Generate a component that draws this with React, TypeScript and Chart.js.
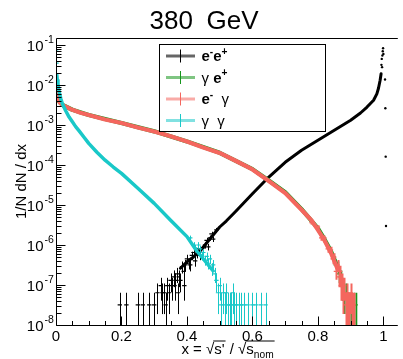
import React, { useEffect, useRef } from 'react';
import { Chart, registerables } from 'chart.js';

Chart.register(...registerables);

// ---------------- data ----------------
const TITLE_NUM = '380';
const TITLE_UNIT = 'GeV';
const Y_TITLE = '1/N dN / dx';
const UNIT = 3.2e-8; // value of one entry per bin

const X_MIN = 0;
const X_MAX = 1.044;
const Y_MIN = 1e-8;
const Y_MAX = 0.15;
const X_TICKS = [0, 0.2, 0.4, 0.6, 0.8, 1];
const X_TICK_LABELS = ['0', '0.2', '0.4', '0.6', '0.8', '1'];
const Y_DECADES = [-1, -2, -3, -4, -5, -6, -7, -8];

const LEGEND_LABELS = ['e⁻e⁺', 'γ e⁺', 'e⁻ γ', 'γ γ'];

// e- e+
const eeX = [0.38, 0.40, 0.42, 0.44, 0.46, 0.48, 0.50, 0.52, 0.55, 0.60, 0.65, 0.70, 0.75, 0.80, 0.85, 0.90, 0.93, 0.95, 0.97, 0.98, 0.985, 0.99, 0.993];
const eeY = [2.63e-7, 3.80e-7, 5.01e-7, 7.08e-7, 1.12e-6, 1.78e-6, 2.82e-6, 3.98e-6, 7.08e-6, 1.91e-5, 5.01e-5, 1.17e-4, 2.34e-4, 4.17e-4, 7.41e-4, 1.32e-3, 2.0e-3, 2.82e-3, 4.17e-3, 6.03e-3, 8.32e-3, 1.32e-2, 1.91e-2];
const eePeakX = [0.994, 0.995, 0.996, 0.997, 0.998, 0.999, 1.0, 1.005, 1.006, 1.007, 1.008];
const eePeakY = [3.2e-2, 4.5e-2, 2.8e-2, 5.5e-2, 7.0e-2, 8.3e-2, 6.0e-2, 1.38e-2, 2.63e-3, 1.62e-4, 2.98e-6];
const eeNoiseX = [0.195, 0.215, 0.25, 0.265, 0.285, 0.3, 0.31, 0.32, 0.325, 0.33, 0.335, 0.34, 0.345, 0.35, 0.355, 0.36, 0.362, 0.365, 0.37, 0.372, 0.375, 0.38, 0.385, 0.39, 0.392, 0.395, 0.4, 0.405, 0.41, 0.415, 0.42, 0.425, 0.43, 0.435, 0.44, 0.45, 0.455, 0.46, 0.465, 0.47, 0.475, 0.48, 0.49];
const eeNoiseY = [3.2e-8, 3.2e-8, 3.2e-8, 3.2e-8, 3.2e-8, 3.2e-8, 6.4e-8, 9.6e-8, 6.4e-8, 6.4e-8, 3.2e-8, 9.6e-8, 6.4e-8, 1.3e-7, 9.6e-8, 1.6e-7, 9.6e-8, 1.3e-7, 1.9e-7, 6.4e-8, 1.6e-7, 1.3e-7, 2.9e-7, 2.2e-7, 9.6e-8, 3.2e-7, 4.5e-7, 3.5e-7, 3.2e-7, 5.5e-7, 6.5e-7, 4.0e-7, 6.0e-7, 8.0e-7, 5.5e-7, 8.5e-7, 1.0e-6, 1.3e-6, 9.0e-7, 1.5e-6, 1.9e-6, 1.4e-6, 2.4e-6];

// gamma e+
const geX = [0.0005, 0.0015, 0.004, 0.01, 0.02, 0.05, 0.1, 0.2, 0.3, 0.4, 0.5, 0.6, 0.65, 0.7, 0.75, 0.8, 0.82, 0.84, 0.86];
const geY = [8.8e-3, 7.9e-3, 5.3e-3, 3.8e-3, 3.17e-3, 2.41e-3, 1.79e-3, 1.12e-3, 6.95e-4, 3.9e-4, 2.02e-4, 7.9e-5, 4.1e-5, 2.1e-5, 7.9e-6, 2.6e-6, 1.4e-6, 7.0e-7, 2.8e-7];
const geNoiseX = [0.85, 0.86, 0.863, 0.87, 0.875, 0.88, 0.887, 0.895, 0.9, 0.91, 0.915];
const geNoiseY = [4.2e-7, 2.9e-7, 1.9e-7, 1.6e-7, 9.6e-8, 6.4e-8, 6.4e-8, 3.2e-8, 3.2e-8, 3.2e-8, 3.2e-8];

// e- gamma
const egX = [0.0005, 0.0015, 0.004, 0.007, 0.012, 0.02, 0.03, 0.05, 0.075, 0.1, 0.15, 0.2, 0.25, 0.3, 0.35, 0.4, 0.45, 0.5, 0.55, 0.6, 0.65, 0.7, 0.75, 0.78, 0.8, 0.82, 0.84, 0.85, 0.86];
const egY = [9.0e-3, 7.94e-3, 5.25e-3, 4.27e-3, 3.63e-3, 3.16e-3, 2.88e-3, 2.40e-3, 2.04e-3, 1.78e-3, 1.38e-3, 1.12e-3, 8.71e-4, 6.92e-4, 5.25e-4, 3.89e-4, 2.75e-4, 2.0e-4, 1.26e-4, 7.76e-5, 3.98e-5, 2.0e-5, 7.59e-6, 4.17e-6, 2.40e-6, 1.32e-6, 6.31e-7, 3.98e-7, 2.51e-7];
const egNoiseX = [0.78, 0.8, 0.81, 0.82, 0.83, 0.84, 0.845, 0.85, 0.855, 0.86, 0.865, 0.868, 0.87, 0.875, 0.878, 0.88, 0.885, 0.888, 0.89, 0.895, 0.9, 0.905, 0.91];
const egNoiseY = [3.6e-6, 2.8e-6, 1.5e-6, 1.5e-6, 8.0e-7, 7.5e-7, 4.5e-7, 5.0e-7, 2.2e-7, 3.2e-7, 1.6e-7, 2.2e-7, 9.6e-8, 1.3e-7, 6.4e-8, 9.6e-8, 3.2e-8, 6.4e-8, 3.2e-8, 3.2e-8, 6.4e-8, 3.2e-8, 3.2e-8];

// gamma gamma
const ggX = [0.0025, 0.004, 0.006, 0.008, 0.01, 0.015, 0.02, 0.03, 0.04, 0.05, 0.06, 0.07, 0.085, 0.1, 0.125, 0.15, 0.175, 0.2, 0.25, 0.3, 0.35, 0.4, 0.43, 0.46, 0.48];
const ggY = [1.78e-2, 1.32e-2, 1.05e-2, 8.32e-3, 6.61e-3, 4.47e-3, 3.31e-3, 2.24e-3, 1.58e-3, 1.20e-3, 9.12e-4, 7.24e-4, 5.01e-4, 3.47e-4, 2.09e-4, 1.32e-4, 8.91e-5, 6.17e-5, 2.63e-5, 1.10e-5, 4.17e-6, 1.62e-6, 7.08e-7, 3.55e-7, 2.24e-7];
const ggNoiseX = [0.0005, 0.0015, 0.41, 0.42, 0.425, 0.435, 0.44, 0.445, 0.45, 0.455, 0.46, 0.465, 0.47, 0.475, 0.48, 0.485, 0.49, 0.495, 0.5, 0.505, 0.51, 0.515, 0.52, 0.525, 0.53, 0.535, 0.54, 0.545, 0.55, 0.56, 0.565, 0.575, 0.585, 0.6, 0.61, 0.625, 0.64];
const ggNoiseY = [7.6e-2, 3.55e-2, 1.5e-6, 1.0e-6, 8.5e-7, 1.0e-6, 8.0e-7, 5.5e-7, 6.5e-7, 4.2e-7, 5.2e-7, 3.5e-7, 4.5e-7, 2.6e-7, 3.2e-7, 1.9e-7, 1.3e-7, 6.4e-8, 9.6e-8, 3.2e-8, 6.4e-8, 3.2e-8, 6.4e-8, 3.2e-8, 3.2e-8, 3.2e-8, 6.4e-8, 3.2e-8, 3.2e-8, 3.2e-8, 3.2e-8, 3.2e-8, 3.2e-8, 3.2e-8, 3.2e-8, 3.2e-8, 3.2e-8];

// ---------------- styles ----------------
const FONT = '"Liberation Sans", Arial, Helvetica, sans-serif';
const C_EE = '#000000';
const C_GE = '#16961c';
const C_EG = '#f4665e';
const C_GG = '#19c8c8';
const C_EE_L = 'rgba(0,0,0,0.6)';
const C_GE_L = 'rgba(22,150,28,0.55)';
const C_EG_L = 'rgba(244,102,94,0.55)';
const C_GG_L = 'rgba(25,200,200,0.55)';

const ERR_WIDTH: Record<string, number> = { 'ee-noise': 1, 'ge-noise': 1.6, 'eg-noise': 2, 'gg-noise': 1 };

const pts = (xs: number[], ys: number[]) => xs.map((x, i) => ({ x, y: ys[i] }));

type Part = { t: string; b?: boolean; sup?: boolean; sub?: boolean };

function drawParts(ctx: CanvasRenderingContext2D, x: number, base: number, parts: Part[], size: number, draw = true): number {
  let cx = x;
  for (const p of parts) {
    const s = p.sup || p.sub ? size * 0.68 : size;
    ctx.font = `${p.b ? 'bold ' : ''}${s}px ${FONT}`;
    const y = p.sup ? base - size * 0.42 : p.sub ? base + size * 0.28 : base;
    if (draw) ctx.fillText(p.t, cx, y);
    cx += ctx.measureText(p.t).width;
  }
  return cx - x;
}

const errorBarPlugin = {
  id: 'errorBars',
  afterDatasetDraw(chart: any, args: any) {
    const ds = chart.data.datasets[args.index];
    const w = ERR_WIDTH[ds.label];
    if (!w) return;
    const { ctx, chartArea: a } = chart;
    const xs = chart.scales.x;
    const ys = chart.scales.y;
    ctx.save();
    ctx.beginPath();
    ctx.rect(a.left, a.top, a.right - a.left, a.bottom - a.top);
    ctx.clip();
    ctx.strokeStyle = ds.borderColor;
    ctx.lineWidth = w;
    ctx.beginPath();
    ds.data.forEach((p: any) => {
      const err = Math.sqrt(p.y * UNIT);
      const px = Math.round(xs.getPixelForValue(p.x)) + 0.5;
      const lo = p.y - err;
      const yLo = lo > Y_MIN * 0.5 ? ys.getPixelForValue(lo) : a.bottom;
      const yHi = ys.getPixelForValue(p.y + err);
      ctx.moveTo(px, yLo);
      ctx.lineTo(px, yHi);
    });
    ctx.stroke();
    ctx.restore();
  },
};

const framePlugin = {
  id: 'rootFrame',
  afterDraw(chart: any) {
    const { ctx, chartArea: a } = chart;
    const xs = chart.scales.x;
    const ys = chart.scales.y;
    ctx.save();
    ctx.fillStyle = '#000';
    ctx.strokeStyle = '#000';
    ctx.lineWidth = 1;

    const L = Math.round(a.left) + 0.5;
    const B = Math.round(a.bottom) + 0.5;
    const T = Math.round(a.top) + 0.5;

    // frame
    ctx.beginPath();
    ctx.moveTo(L, T);
    ctx.lineTo(a.right, T);
    ctx.moveTo(L, T);
    ctx.lineTo(L, B);
    ctx.lineTo(a.right, B);
    ctx.stroke();

    // x ticks
    ctx.beginPath();
    for (let i = 0; i <= 20; i++) {
      const v = i * 0.05;
      const px = Math.round(xs.getPixelForValue(v)) + 0.5;
      const major = i % 4 === 0;
      ctx.moveTo(px, B);
      ctx.lineTo(px, B - (major ? 9 : 4.5));
    }
    // y ticks
    for (const e of Y_DECADES) {
      const py = Math.round(ys.getPixelForValue(Math.pow(10, e))) + 0.5;
      ctx.moveTo(L, py);
      ctx.lineTo(L + 9, py);
      for (let m = 2; m <= 9; m++) {
        const v = m * Math.pow(10, e);
        if (v > Y_MAX || v < Y_MIN) continue;
        const q = Math.round(ys.getPixelForValue(v)) + 0.5;
        ctx.moveTo(L, q);
        ctx.lineTo(L + 5, q);
      }
    }
    ctx.stroke();

    // x tick labels
    ctx.font = `15px ${FONT}`;
    ctx.textAlign = 'center';
    ctx.textBaseline = 'middle';
    X_TICKS.forEach((v, i) => {
      ctx.fillText(X_TICK_LABELS[i], xs.getPixelForValue(v), 337);
    });

    // y tick labels
    for (const e of Y_DECADES) {
      const py = ys.getPixelForValue(Math.pow(10, e));
      ctx.font = `15px ${FONT}`;
      ctx.textAlign = 'right';
      ctx.textBaseline = 'middle';
      ctx.fillText('10', 43.5, py + 1.5);
      ctx.font = `10.5px ${FONT}`;
      ctx.textAlign = 'left';
      ctx.fillText(String(e), 44.5, py - 4.5);
    }

    // title
    ctx.textAlign = 'left';
    ctx.textBaseline = 'alphabetic';
    ctx.font = `26px ${FONT}`;
    ctx.fillText(TITLE_NUM, 149.5, 29);
    ctx.fillText(TITLE_UNIT, 206.5, 29);

    // y title
    ctx.save();
    ctx.translate(26, (a.top + a.bottom) / 2);
    ctx.rotate(-Math.PI / 2);
    ctx.textAlign = 'center';
    ctx.font = `15px ${FONT}`;
    ctx.fillText(Y_TITLE, 0, 0);
    ctx.restore();

    // x title: x = sqrt(s') / sqrt(s_nom)
    ctx.textAlign = 'left';
    const size = 15;
    const base = 353.5;
    const p1: Part[] = [{ t: 'x = ' }];
    const rad: Part[] = [{ t: '√' }];
    const a1: Part[] = [{ t: "s'" }];
    const mid: Part[] = [{ t: ' / ' }];
    const a2: Part[] = [{ t: 's' }, { t: 'nom', sub: true }];
    const w1 = drawParts(ctx, 0, 0, p1, size, false);
    const wr = drawParts(ctx, 0, 0, rad, size, false);
    const wa1 = drawParts(ctx, 0, 0, a1, size, false);
    const wm = drawParts(ctx, 0, 0, mid, size, false);
    const wa2 = drawParts(ctx, 0, 0, a2, size, false);
    const total = w1 + wr + wa1 + wm + wr + wa2 + 2;
    let cx = 228 - total / 2;
    cx += drawParts(ctx, cx, base, p1, size);
    cx += drawParts(ctx, cx, base, rad, size);
    ctx.beginPath();
    ctx.moveTo(cx - 1, base - 12.5);
    ctx.lineTo(cx + wa1 + 1, base - 12.5);
    ctx.stroke();
    cx += drawParts(ctx, cx, base, a1, size) + 1;
    cx += drawParts(ctx, cx, base, mid, size);
    cx += drawParts(ctx, cx, base, rad, size);
    ctx.beginPath();
    ctx.moveTo(cx - 1, base - 12.5);
    ctx.lineTo(cx + wa2 + 1, base - 12.5);
    ctx.stroke();
    drawParts(ctx, cx, base, a2, size);

    // legend
    const bx = 159.5, by = 44.5, bw = 166, bh = 87;
    ctx.fillStyle = '#fff';
    ctx.fillRect(bx, by, bw, bh);
    ctx.strokeStyle = '#000';
    ctx.lineWidth = 1;
    ctx.strokeRect(bx, by, bw, bh);
    const rows = [56, 77.5, 99, 120.5];
    const light = [C_EE_L, C_GE_L, C_EG_L, C_GG_L];
    const full = [C_EE, C_GE, C_EG, C_GG];
    const texts: Part[][] = [
      [{ t: 'e', b: true }, { t: '-', b: true, sup: true }, { t: 'e', b: true }, { t: '+', b: true, sup: true }],
      [{ t: 'γ ' }, { t: 'e', b: true }, { t: '+', b: true, sup: true }],
      [{ t: 'e', b: true }, { t: '-', b: true, sup: true }, { t: '  γ' }],
      [{ t: 'γ  γ' }],
    ];
    rows.forEach((ry, i) => {
      ctx.strokeStyle = light[i];
      ctx.lineWidth = 3;
      ctx.beginPath();
      ctx.moveTo(166, ry);
      ctx.lineTo(195, ry);
      ctx.stroke();
      ctx.strokeStyle = full[i];
      ctx.lineWidth = 1;
      ctx.beginPath();
      ctx.moveTo(180.5, ry - 6.5);
      ctx.lineTo(180.5, ry + 6.5);
      ctx.stroke();
      ctx.fillStyle = '#000';
      ctx.textBaseline = 'alphabetic';
      drawParts(ctx, 201.5, ry + 5, texts[i], 15);
    });
    ctx.restore();
  },
};

export default function App() {
  const ref = useRef<HTMLCanvasElement | null>(null);
  useEffect(() => {
    if (!ref.current) return;
    const line = (label: string, xs: number[], ys: number[], color: string, w: number, order: number) => ({
      label, data: pts(xs, ys), showLine: true, borderColor: color, backgroundColor: color,
      borderWidth: w, pointRadius: 0, tension: 0, order, borderJoinStyle: 'round', borderCapStyle: 'round',
    });
    const noise = (label: string, xs: number[], ys: number[], color: string, order: number) => ({
      label, data: pts(xs, ys), showLine: false, borderColor: color, backgroundColor: color,
      pointStyle: 'line', pointRadius: 2.2, pointBorderWidth: 1.2, pointBorderColor: color, order,
    });
    const chart = new Chart(ref.current, {
      type: 'scatter',
      data: {
        datasets: [
          line(LEGEND_LABELS[3], ggX, ggY, C_GG, 3.5, 0),
          noise('gg-noise', ggNoiseX, ggNoiseY, C_GG, 0),
          line(LEGEND_LABELS[2], egX, egY, C_EG, 4.2, 1),
          noise('eg-noise', egNoiseX, egNoiseY, C_EG, 1),
          line(LEGEND_LABELS[1], geX, geY, C_GE, 4.2, 2),
          noise('ge-noise', geNoiseX, geNoiseY, C_GE, 2),
          line(LEGEND_LABELS[0], eeX, eeY, C_EE, 3, 3),
          noise('ee-noise', eeNoiseX, eeNoiseY, C_EE, 3),
          {
            label: 'ee-peak', data: pts(eePeakX, eePeakY), showLine: false, borderColor: C_EE,
            backgroundColor: C_EE, pointStyle: 'circle', pointRadius: 1.2, pointBorderWidth: 0, order: 3,
          },
        ] as any,
      },
      options: {
        responsive: false,
        animation: false,
        events: [],
        layout: { padding: { left: 56, right: 0, top: 38, bottom: 34 } },
        plugins: { legend: { display: false }, tooltip: { enabled: false }, title: { display: false } },
        scales: {
          x: { type: 'linear', min: X_MIN, max: X_MAX, display: false, bounds: 'data' },
          y: { type: 'logarithmic', min: Y_MIN, max: Y_MAX, display: false, bounds: 'data' },
        },
      } as any,
      plugins: [errorBarPlugin, framePlugin],
    });
    return () => chart.destroy();
  }, []);
  return (
    <div style={{ position: 'absolute', left: 0, top: 0, width: 403, height: 359, background: '#fff' }}>
      <canvas ref={ref} width={403} height={359} style={{ display: 'block' }} />
    </div>
  );
}
